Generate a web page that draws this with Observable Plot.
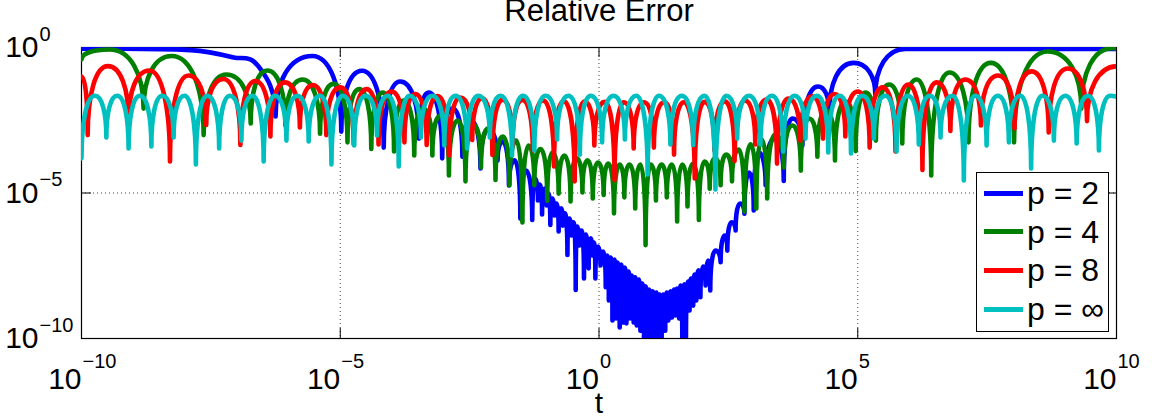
<!DOCTYPE html>
<html>
<head>
<meta charset="utf-8">
<script src="https://cdn.jsdelivr.net/npm/d3@7"></script>
<script src="https://cdn.jsdelivr.net/npm/@observablehq/plot@0.6"></script>
<style>
  html, body { margin: 0; padding: 0; background: #fff; }
  #wrap { position: relative; width: 1158px; height: 420px; overflow: hidden; font-family: "Liberation Sans", Arial, Helvetica, sans-serif; }
  #legend { position: absolute; left: 976px; top: 172px; width: 131px; height: 158px; border: 1.5px solid #000; background: #fff; }
  .row { position: absolute; left: 0; width: 131px; height: 32px; }
  .sw { position: absolute; left: 7px; top: 13.5px; width: 39px; height: 5px; }
  .lab { position: absolute; left: 50px; top: 0; font-size: 32px; line-height: 32px; white-space: nowrap; color: #000; }
</style>
</head>
<body>
<div id="wrap">
  <div id="chart"></div>
  <div id="legend"></div>
</div>
<script>
// ---- data: [log10 t, log10 relative error] read at the dips and arch tops ----
const seriesNames  = ["p = 2", "p = 4", "p = 8", "p = \u221E"];
const seriesColors = ["#0000ff", "#008000", "#ff0000", "#00bfbf"];

const p2 = [[-10,-0.04],[-7.89,-0.09],[-7.06,-0.34],[-6.58,-0.65],[-6.25,-2.37],[-5.54,-0.29],[-4.98,-2.89],[-4.58,-0.80],[-4.16,-3.44],[-3.84,-1.17],[-3.48,-3.13],[-3.29,-1.55],[-3.03,-3.81],[-2.83,-2.10],[-2.64,-3.75],[-2.48,-2.51],[-2.29,-4.16],[-2.14,-2.82],[-1.96,-3.88],[-1.86,-3.23],[-1.74,-4.74],[-1.63,-3.88],[-1.52,-5.88],[-1.41,-4.23],[-1.29,-5.93],
  [-1.23,-4.50],[-1.18,-5.26],[-1.14,-4.71],[-1.10,-5.74],[-1.05,-4.85],[-1.01,-5.43],[-0.98,-5.02],[-0.94,-6.10],[-0.90,-5.19],[-0.86,-5.77],[-0.82,-5.36],[-0.78,-6.32],[-0.73,-5.53],[-0.70,-6.12],[-0.66,-5.70],[-0.61,-7.13],[-0.57,-5.88],[-0.53,-6.46],[-0.49,-6.01],[-0.45,-8.33],[-0.42,-6.15],[-0.38,-6.80],[-0.34,-6.29],[-0.29,-7.94],[-0.25,-6.43],[-0.20,-7.59],[-0.16,-6.56],[-0.13,-7.15],[-0.10,-6.70],[-0.07,-7.94],[-0.02,-6.84],[0.03,-7.49],[0.08,-7.01],[0.13,-8.24],[0.16,-7.15],[0.19,-8.69],[0.23,-7.22],[0.26,-9.38],[0.30,-7.29],[0.33,-9.31],[0.36,-7.39],[0.40,-9.62],[0.43,-7.46],[0.46,-9.45],[0.50,-7.56],[0.53,-9.48],[0.57,-7.70],[0.60,-9.31],[0.63,-7.84],[0.67,-9.45],[0.70,-7.90],[0.73,-9.55],[0.77,-7.97],[0.80,-9.73],[0.84,-8.11],[0.87,-10.24],[0.90,-8.21],[0.94,-10.24],[0.97,-8.32],[1.00,-10.24],[1.04,-8.38],[1.07,-10.24],[1.11,-8.42],[1.14,-10.24],[1.17,-8.49],[1.21,-10.24],[1.24,-8.49],[1.28,-9.73],[1.31,-8.42],[1.34,-9.38],[1.38,-8.38],[1.41,-9.28],[1.45,-8.32],[1.48,-9.21],[1.51,-8.28],[1.55,-9.31],[1.58,-8.18],[1.61,-10.24],[1.65,-8.14],[1.68,-10.24],[1.72,-8.04],[1.75,-9.04],[1.78,-7.94],[1.82,-8.87],[1.85,-7.80],[1.88,-8.69],[1.92,-7.66],[1.96,-8.58],[2.01,-7.53],[2.06,-8.18],[2.11,-7.32],[2.15,-8.35],
  [2.25,-6.98],[2.35,-7.38],[2.43,-6.46],[2.48,-6.98],[2.56,-6.01],[2.64,-6.29],[2.73,-5.36],[2.81,-5.71],[2.90,-4.30],[2.99,-5.60],[3.08,-3.61],[3.22,-4.73],[3.39,-3.13],[3.57,-4.59],[3.74,-2.44],[3.93,-3.37],[4.23,-1.34],[4.45,-2.23],[4.92,-0.53],[5.34,-1.63],[5.92,-0.05],[10,-0.05]];

const p4 = [[-10,-0.41],[-9.46,-0.07],[-8.80,-2.10],[-8.26,-0.29],[-7.64,-3.01],[-7.20,-0.93],[-6.73,-2.61],[-6.41,-0.79],[-6.06,-2.68],[-5.73,-1.10],[-5.39,-2.96],[-5.13,-1.25],[-4.86,-3.26],[-4.63,-1.43],[-4.40,-3.49],[-4.18,-1.55],[-3.96,-3.57],[-3.77,-1.82],[-3.57,-3.71],[-3.40,-2.10],[-3.22,-3.71],[-3.06,-2.34],[-2.90,-4.40],[-2.73,-2.51],[-2.58,-4.60],[-2.43,-2.65],[-2.28,-4.12],[-2.14,-2.78],[-2.00,-4.55],[-1.86,-3.06],[-1.73,-4.73],[-1.60,-3.20],[-1.48,-6.01],[-1.36,-3.37],[-1.25,-4.73],[-1.13,-3.49],[-1.00,-5.27],[-0.90,-3.61],[-0.78,-5.02],[-0.67,-3.71],[-0.55,-5.29],[-0.43,-3.81],[-0.32,-4.98],[-0.22,-3.88],[-0.12,-5.19],[-0.02,-3.95],[0.09,-5.07],[0.18,-3.99],[0.29,-5.70],[0.40,-4.02],[0.49,-5.15],[0.59,-4.02],[0.70,-5.53],[0.80,-4.02],[0.90,-6.79],[1.00,-4.02],[1.10,-5.26],[1.21,-4.02],[1.31,-5.15],[1.41,-4.02],[1.51,-5.98],[1.61,-4.02],[1.71,-5.46],[1.82,-3.99],[1.93,-5.93],[2.04,-3.92],[2.14,-4.85],[2.24,-3.81],[2.35,-4.73],[2.46,-3.68],[2.57,-4.60],[2.70,-3.51],[2.81,-5.64],[2.93,-3.33],[3.04,-5.53],[3.14,-3.16],[3.25,-5.19],[3.41,-2.99],[3.57,-4.12],[3.74,-2.68],[3.90,-4.23],[4.06,-2.44],[4.22,-3.75],[4.39,-2.16],[4.56,-3.88],[4.76,-1.86],[4.96,-3.56],[5.15,-1.55],[5.35,-3.20],[5.61,-1.27],[5.86,-3.30],[6.14,-1.10],[6.42,-4.40],[6.77,-0.86],[7.14,-3.26],[7.57,-0.53],[8.02,-3.26],[8.67,-0.14],[9.32,-2.10],[9.92,-0.02],[10,-0.02]];

const p8 = [[-10,-1.00],[-9.88,-3.01],[-9.49,-0.64],[-9.09,-2.51],[-8.69,-0.79],[-8.29,-3.92],[-7.93,-0.96],[-7.59,-2.66],[-7.26,-1.08],[-6.93,-3.35],[-6.64,-1.15],[-6.35,-3.06],[-6.07,-1.20],[-5.78,-2.75],[-5.53,-1.29],[-5.27,-3.01],[-5.00,-1.37],[-4.74,-3.33],[-4.49,-1.43],[-4.26,-3.33],[-4.01,-1.51],[-3.76,-3.26],[-3.55,-1.60],[-3.33,-3.35],[-3.12,-1.67],[-2.90,-3.71],[-2.68,-1.72],[-2.45,-3.18],[-2.26,-1.75],[-2.06,-3.69],[-1.86,-1.79],[-1.67,-3.37],[-1.48,-1.80],[-1.28,-3.54],[-1.08,-1.82],[-0.87,-4.09],[-0.68,-1.85],[-0.47,-4.60],[-0.28,-1.86],[-0.09,-3.37],[0.11,-1.87],[0.30,-4.55],[0.48,-1.88],[0.67,-3.47],[0.87,-1.88],[1.06,-3.44],[1.26,-1.88],[1.45,-3.68],[1.64,-1.88],[1.85,-4.50],[2.04,-1.87],[2.23,-3.54],[2.43,-1.85],[2.62,-3.90],[2.82,-1.82],[3.02,-3.33],[3.24,-1.79],[3.44,-3.99],[3.66,-1.75],[3.89,-3.20],[4.12,-1.68],[4.33,-3.13],[4.55,-1.60],[4.76,-3.06],[5.00,-1.51],[5.23,-3.44],[5.48,-1.37],[5.73,-3.57],[5.98,-1.27],[6.25,-4.21],[6.52,-1.20],[6.79,-2.87],[7.08,-1.10],[7.38,-2.68],[7.71,-0.96],[8.03,-2.78],[8.36,-0.82],[8.69,-2.92],[9.06,-0.72],[9.43,-2.53],[10,-0.65]];

const pInf = [[-10,-3.81],[-9.74,-1.66],[-9.52,-3.09],[-9.31,-1.66],[-9.09,-3.47],[-8.87,-1.66],[-8.65,-3.40],[-8.44,-1.66],[-8.22,-3.09],[-8.01,-1.66],[-7.79,-4.02],[-7.57,-1.66],[-7.34,-3.47],[-7.13,-1.66],[-6.91,-3.20],[-6.70,-1.66],[-6.48,-3.92],[-6.26,-1.66],[-6.04,-3.20],[-5.83,-1.66],[-5.61,-3.23],[-5.39,-1.66],[-5.17,-4.02],[-4.95,-1.66],[-4.73,-3.37],[-4.51,-1.66],[-4.29,-3.02],[-4.08,-1.66],[-3.87,-4.09],[-3.66,-1.66],[-3.44,-3.09],[-3.22,-1.66],[-2.99,-3.37],[-2.77,-1.66],[-2.55,-3.47],[-2.33,-1.66],[-2.11,-3.09],[-1.90,-1.66],[-1.68,-3.71],[-1.47,-1.66],[-1.25,-3.54],[-1.03,-1.66],[-0.81,-3.16],[-0.59,-1.66],[-0.37,-3.68],[-0.16,-1.66],[0.06,-3.26],[0.28,-1.66],[0.50,-3.16],[0.72,-1.66],[0.94,-4.36],[1.16,-1.66],[1.38,-3.33],[1.60,-1.66],[1.82,-3.35],[2.04,-1.66],[2.25,-4.88],[2.46,-1.66],[2.67,-3.13],[2.90,-1.66],[3.12,-3.33],[3.34,-1.66],[3.56,-3.57],[3.78,-1.66],[3.99,-3.13],[4.21,-1.66],[4.43,-3.61],[4.65,-1.66],[4.87,-3.64],[5.09,-1.66],[5.31,-3.13],[5.53,-1.66],[5.75,-3.57],[5.97,-1.66],[6.18,-3.33],[6.39,-1.66],[6.60,-3.09],[6.83,-1.66],[7.05,-4.57],[7.27,-1.66],[7.49,-3.37],[7.71,-1.66],[7.92,-3.26],[8.14,-1.66],[8.35,-4.16],[8.57,-1.66],[8.79,-3.20],[9.01,-1.66],[9.23,-3.30],[9.45,-1.66],[9.66,-3.54],[9.88,-1.66],[10,-1.70]];

const xTicks = [1e-10, 1e-5, 1, 1e5, 1e10];
const xTickExp = ["\u221210", "\u22125", "0", "5", "10"];
const yTicks = [1e-10, 1e-5, 1];
const yTickExp = ["\u221210", "\u22125", "0"];
const xGrid = [1e-5, 1, 1e5];
const yGrid = [1e-5];

const seriesPairs = [p2, p4, p8, pInf];
const seriesData = seriesPairs.map(s => s.map(([a, b]) => ({t: Math.pow(10, a), err: Math.pow(10, b)})));

// arch-style curve: rounded tops at local maxima, sharp vertical cusps at local minima
function archCurve(context) {
  let pts = [];
  const k = 0.6;
  return {
    areaStart() {}, areaEnd() {},
    lineStart() { pts = []; },
    point(x, y) { pts.push([+x, +y]); },
    lineEnd() {
      const n = pts.length;
      if (!n) return;
      const type = pts.map((p, i) => {
        const a = i > 0 ? pts[i - 1][1] : null;
        const b = i < n - 1 ? pts[i + 1][1] : null;
        const y = p[1];
        const top = (a === null || y <= a) && (b === null || y <= b);
        const bot = (a === null || y >= a) && (b === null || y >= b);
        return top ? "max" : bot ? "min" : "mid";
      });
      const slope = j => {
        const a = pts[Math.max(0, j - 1)], b = pts[Math.min(n - 1, j + 1)];
        return (b[1] - a[1]) / (b[0] - a[0]);
      };
      context.moveTo(pts[0][0], pts[0][1]);
      for (let i = 0; i < n - 1; i++) {
        const [x0, y0] = pts[i], [x1, y1] = pts[i + 1];
        const dx = x1 - x0, dy = y1 - y0;
        let c1, c2;
        if (type[i] === "max") c1 = [x0 + k * dx, y0];
        else if (type[i] === "min") c1 = [x0, y0 + k * dy];
        else { const m = slope(i); c1 = [x0 + dx / 3, y0 + m * dx / 3]; }
        if (type[i + 1] === "max") c2 = [x1 - k * dx, y1];
        else if (type[i + 1] === "min") c2 = [x1, y1 - k * dy];
        else { const m = slope(i + 1); c2 = [x1 - dx / 3, y1 - m * dx / 3]; }
        context.bezierCurveTo(c1[0], c1[1], c2[0], c2[1], x1, y1);
      }
    }
  };
}

const FONT = "'Liberation Sans', Arial, Helvetica, sans-serif";

const chart = Plot.plot({
  width: 1158,
  height: 420,
  marginTop: 47,
  marginLeft: 81,
  marginRight: 42,
  marginBottom: 82,
  style: {fontFamily: FONT, background: "#fff", overflow: "visible"},
  x: {type: "log", domain: [1e-10, 1e10], axis: null},
  y: {type: "log", domain: [1e-10, 1], axis: null},
  marks: [
    Plot.ruleX(xGrid, {stroke: "#444", strokeWidth: 1, strokeDasharray: "1,3"}),
    Plot.ruleY(yGrid, {stroke: "#444", strokeWidth: 1, strokeDasharray: "1,3"}),
    Plot.ruleX(xTicks, {stroke: "#000", insetTop: 281}),
    Plot.ruleX(xTicks, {stroke: "#000", insetBottom: 281}),
    Plot.ruleY(yTicks, {stroke: "#000", insetRight: 1025}),
    Plot.ruleY(yTicks, {stroke: "#000", insetLeft: 1025}),
    Plot.frame({stroke: "#000", strokeWidth: 1.2}),
    ...seriesData.map((d, i) => Plot.line(d, {
      x: "t", y: "err", stroke: seriesColors[i], strokeWidth: 4.6,
      curve: archCurve, clip: true, strokeLinejoin: "round", strokeLinecap: "round"
    })),
    Plot.text(xTicks, {x: d => d, frameAnchor: "bottom", lineAnchor: "middle", text: () => "10", textAnchor: "end", dy: 41, fontSize: 30, fontFamily: FONT, fill: "#000"}),
    Plot.text(xTicks, {x: d => d, frameAnchor: "bottom", lineAnchor: "middle", text: (d, i) => xTickExp[i], textAnchor: "start", dx: 1, dy: 23, fontSize: 20, fontFamily: FONT, fill: "#000"}),
    Plot.text(yTicks, {y: d => d, frameAnchor: "left", lineAnchor: "middle", text: () => "10", textAnchor: "end", dx: -43, fontSize: 30, fontFamily: FONT, fill: "#000"}),
    Plot.text(yTicks, {y: d => d, frameAnchor: "left", lineAnchor: "middle", text: (d, i) => yTickExp[i], textAnchor: "start", dx: -42, dy: -13, fontSize: 20, fontFamily: FONT, fill: "#000"}),
    Plot.text(["t"], {text: d => d, frameAnchor: "bottom", lineAnchor: "middle", dy: 65, fontSize: 30, fontFamily: FONT, fill: "#000"}),
    Plot.text(["Relative Error"], {text: d => d, frameAnchor: "top", lineAnchor: "middle", dy: -36, fontSize: 31, fontFamily: FONT, fill: "#000"})
  ]
});
document.getElementById("chart").appendChild(chart);

// legend
const legend = document.getElementById("legend");
const rowCenters = [20, 58.7, 97.4, 136];
seriesNames.forEach((name, i) => {
  const row = document.createElement("div");
  row.className = "row";
  row.style.top = (rowCenters[i] - 16) + "px";
  const sw = document.createElement("div");
  sw.className = "sw";
  sw.style.background = seriesColors[i];
  const lab = document.createElement("div");
  lab.className = "lab";
  lab.textContent = name;
  row.appendChild(sw);
  row.appendChild(lab);
  legend.appendChild(row);
});
</script>
</body>
</html>
